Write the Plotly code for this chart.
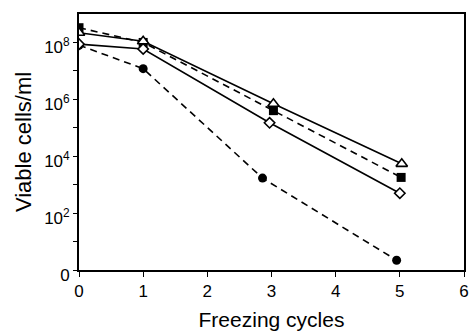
import plotly.graph_objects as go

# Data
x_sq = [0, 1, 3.03, 5.02]
y_sq = [3.3e8, 1.0e8, 4.0e5, 1.8e3]

x_tri = [0, 1, 3.03, 5.03]
y_tri = [2.2e8, 1.1e8, 7.0e5, 5.4e3]

x_dia = [0, 1, 2.97, 5.0]
y_dia = [8.7e7, 5.9e7, 1.5e5, 5.0e2]

x_cir = [0, 1, 2.86, 4.95]
y_cir = [8.0e7, 1.2e7, 1.7e3, 2.2]

y_tickvals = [1, 1e2, 1e4, 1e6, 1e8]
y_ticktext = ["0", "10<sup>2</sup>", "10<sup>4</sup>", "10<sup>6</sup>", "10<sup>8</sup>"]
y_minor = [10, 1e3, 1e5, 1e7]
x_tickvals = [0, 1, 2, 3, 4, 5, 6]

fig = go.Figure()

fig.add_trace(go.Scatter(
    x=x_cir, y=y_cir, mode="lines+markers",
    line=dict(color="black", width=1.6, dash="7px,5px"),
    marker=dict(symbol="circle", size=9, color="black"),
))
fig.add_trace(go.Scatter(
    x=x_sq, y=y_sq, mode="lines+markers",
    line=dict(color="black", width=1.6, dash="7px,5px"),
    marker=dict(symbol="square", size=9, color="black"),
))
fig.add_trace(go.Scatter(
    x=x_tri, y=y_tri, mode="lines+markers",
    line=dict(color="black", width=1.6),
    marker=dict(symbol="triangle-up", size=10, color="white", line=dict(color="black", width=1.6)),
))
fig.add_trace(go.Scatter(
    x=x_dia, y=y_dia, mode="lines+markers",
    line=dict(color="black", width=1.6),
    marker=dict(symbol="diamond", size=8, color="white", line=dict(color="black", width=1.6)),
))

font_family = "Liberation Sans, Arial, sans-serif"

fig.update_layout(
    width=474, height=333,
    margin=dict(l=79, r=5, t=14, b=56),
    paper_bgcolor="white", plot_bgcolor="white",
    showlegend=False,
    font=dict(family=font_family, color="black", size=17),
    xaxis=dict(
        range=[0, 6], tickvals=x_tickvals,
        ticks="outside", ticklen=5, tickwidth=1.3, tickcolor="black",
        showline=True, linecolor="black", linewidth=1.8, mirror=True,
        showgrid=False, zeroline=False,
        tickfont=dict(size=17, family=font_family),
        title=dict(text="Freezing cycles", font=dict(size=21, family=font_family), standoff=12),
    ),
    yaxis=dict(
        type="log", range=[0, 9],
        tickvals=y_tickvals, ticktext=y_ticktext,
        ticks="outside", ticklen=4, tickwidth=1.3, tickcolor="black",
        minor=dict(tickvals=y_minor, ticks="outside", ticklen=4, tickwidth=1.3, tickcolor="black"),
        showline=True, linecolor="black", linewidth=1.8, mirror=True,
        showgrid=False, zeroline=False,
        ticklabelshift=5,
        tickfont=dict(size=17, family=font_family),
        title=dict(text="Viable cells/ml", font=dict(size=22, family=font_family), standoff=6),
    ),
)

fig.write_html("out.html", config={"displayModeBar": False})
